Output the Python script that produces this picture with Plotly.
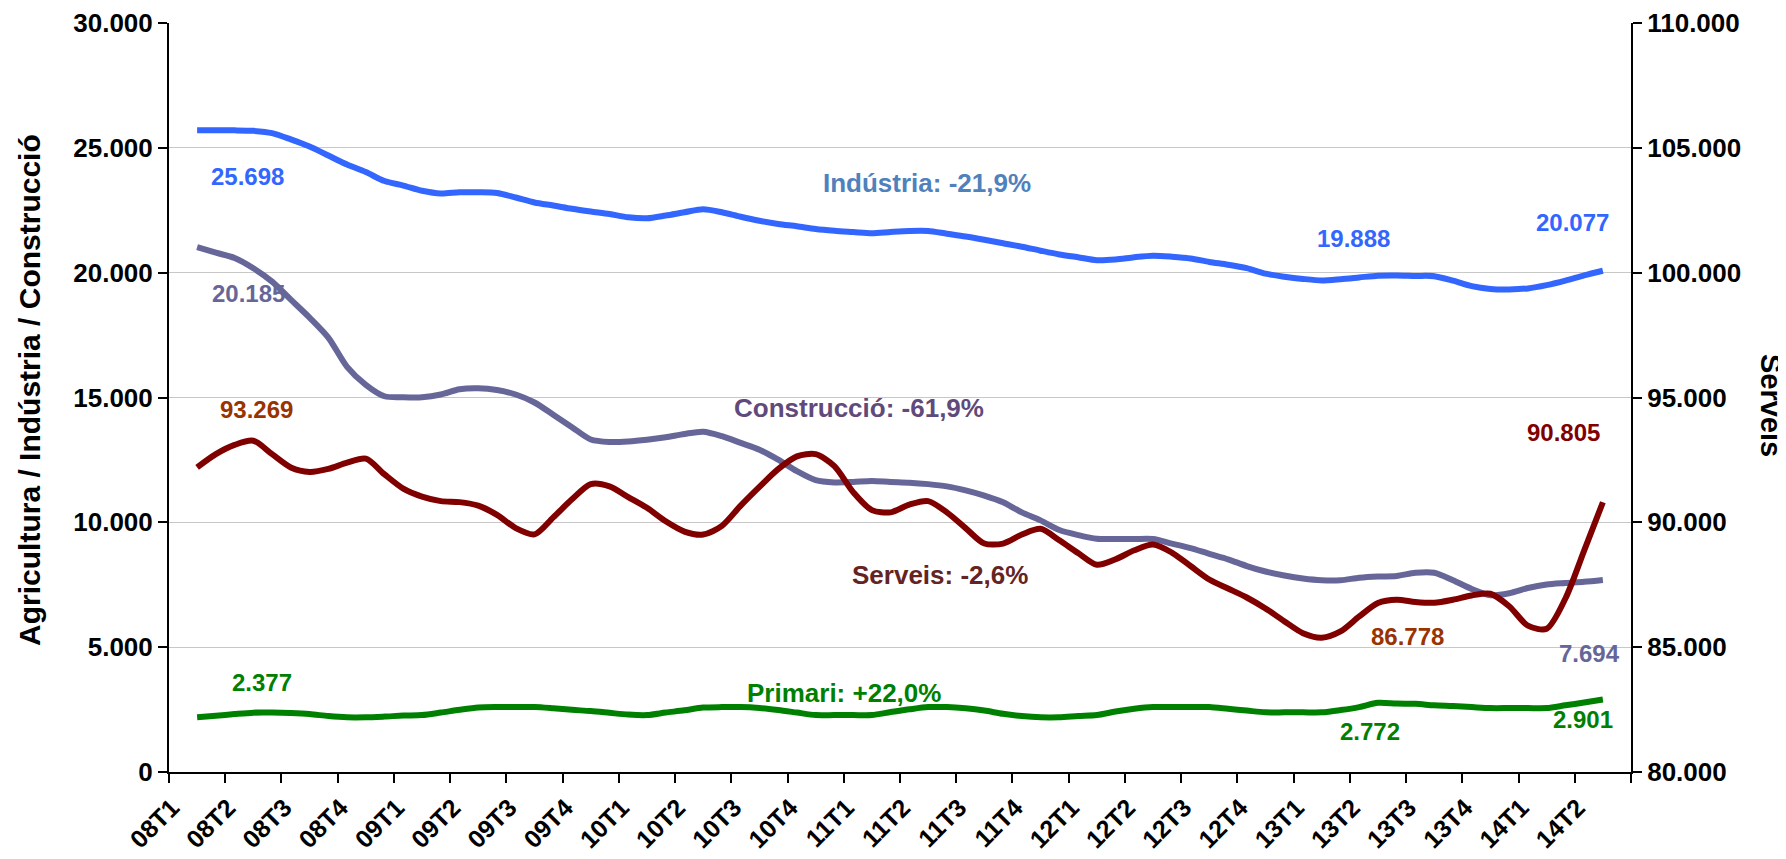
import plotly.graph_objects as go

FONT = "Liberation Sans, Arial, sans-serif"

quarters = ["08T1", "08T2", "08T3", "08T4", "09T1", "09T2", "09T3", "09T4",
            "10T1", "10T2", "10T3", "10T4", "11T1", "11T2", "11T3", "11T4",
            "12T1", "12T2", "12T3", "12T4", "13T1", "13T2", "13T3", "13T4",
            "14T1", "14T2"]

# monthly values, thousands of people (left axis)
industria = [25.70, 25.70, 25.70, 25.68, 25.59, 25.34, 25.05, 24.69, 24.33, 24.03, 23.67, 23.49, 23.28, 23.17, 23.22, 23.22,
             23.19, 23.01, 22.81, 22.69, 22.56, 22.45, 22.35, 22.22, 22.18, 22.29, 22.42, 22.54, 22.42, 22.24, 22.08, 21.95,
             21.86, 21.75, 21.68, 21.63, 21.58, 21.63, 21.67, 21.67, 21.56, 21.45, 21.32, 21.18, 21.04, 20.88, 20.73, 20.62,
             20.50, 20.53, 20.62, 20.68, 20.64, 20.57, 20.43, 20.32, 20.18, 19.96, 19.84, 19.75, 19.69, 19.74, 19.81, 19.88,
             19.888, 19.87, 19.86, 19.68, 19.46, 19.35, 19.33, 19.37, 19.50, 19.68, 19.89, 20.077]

construccio = [21.02, 20.80, 20.59, 20.18, 19.64, 18.92, 18.20, 17.40, 16.23, 15.51, 15.05, 15.01, 15.01, 15.12, 15.33, 15.37,
               15.30, 15.12, 14.80, 14.31, 13.81, 13.32, 13.22, 13.24, 13.31, 13.41, 13.54, 13.63, 13.45, 13.18, 12.91, 12.51,
               12.05, 11.69, 11.60, 11.62, 11.66, 11.62, 11.59, 11.53, 11.44, 11.28, 11.07, 10.80, 10.40, 10.08, 9.69, 9.49,
               9.34, 9.33, 9.33, 9.33, 9.15, 8.97, 8.74, 8.52, 8.25, 8.03, 7.87, 7.75, 7.68, 7.68, 7.78, 7.83,
               7.85, 7.98, 7.98, 7.68, 7.33, 7.08, 7.16, 7.37, 7.51, 7.57, 7.62, 7.694]

primari = [2.19, 2.25, 2.32, 2.377, 2.38, 2.36, 2.32, 2.24, 2.19, 2.19, 2.22, 2.26, 2.28, 2.38, 2.49, 2.58,
           2.60, 2.60, 2.60, 2.55, 2.49, 2.44, 2.37, 2.30, 2.28, 2.38, 2.47, 2.58, 2.60, 2.60, 2.56, 2.48,
           2.38, 2.28, 2.28, 2.28, 2.28, 2.40, 2.51, 2.60, 2.60, 2.55, 2.46, 2.33, 2.24, 2.19, 2.19, 2.24,
           2.28, 2.42, 2.53, 2.60, 2.60, 2.60, 2.60, 2.53, 2.46, 2.39, 2.39, 2.39, 2.39, 2.48, 2.60, 2.772,
           2.74, 2.73, 2.67, 2.64, 2.60, 2.56, 2.56, 2.56, 2.56, 2.67, 2.78, 2.901]

# right axis
serveis = [92.20, 92.73, 93.10, 93.269, 92.73, 92.20, 92.02, 92.14, 92.39, 92.55, 91.92, 91.35, 91.03, 90.85, 90.81, 90.67,
           90.30, 89.77, 89.52, 90.20, 90.92, 91.53, 91.44, 91.01, 90.58, 90.04, 89.63, 89.51, 89.86, 90.67, 91.42, 92.13,
           92.64, 92.73, 92.25, 91.21, 90.49, 90.40, 90.71, 90.85, 90.40, 89.77, 89.15, 89.15, 89.51, 89.74, 89.28, 88.77,
           88.30, 88.52, 88.88, 89.11, 88.79, 88.25, 87.71, 87.35, 86.99, 86.55, 86.04, 85.56, 85.38, 85.63, 86.23, 86.77,
           86.90, 86.81, 86.778, 86.90, 87.07, 87.14, 86.64, 85.86, 85.74, 86.95, 88.87, 90.805]

# month positions on the quarter axis (each quarter = 1 unit, mid-month points)
months = [0.5 + k / 3 for k in range(len(industria))]

series = [
    ("Indústria", industria, "#3366FF", "y"),
    ("Construcció", construccio, "#666699", "y"),
    ("Serveis", serveis, "#800000", "y2"),
    ("Primari", primari, "#008000", "y"),
]

labels = [
    # text, x, y (left axis units), colour, size
    ("25.698", 1.39, 23850, "#3366FF", 24),
    ("20.185", 1.41, 19150, "#666699", 24),
    ("93.269", 1.55, 14500, "#993300", 24),
    ("2.377", 1.66, 3600, "#008000", 24),
    ("Indústria: -21,9%", 13.48, 23590, "#4F81BD", 26),
    ("Construcció: -61,9%", 12.27, 14580, "#604A7B", 26),
    ("Serveis: -2,6%", 13.71, 7890, "#632423", 26),
    ("Primari: +22,0%", 12.0, 3180, "#008000", 26),
    ("19.888", 21.06, 21350, "#3366FF", 24),
    ("20.077", 24.96, 21990, "#3366FF", 24),
    ("90.805", 24.80, 13580, "#800000", 24),
    ("86.778", 22.03, 5410, "#993300", 24),
    ("7.694", 25.26, 4730, "#666699", 24),
    ("2.772", 21.36, 1640, "#008000", 24),
    ("2.901", 25.14, 2120, "#008000", 24),
]

fig = go.Figure()
for name, vals, color, yax in series:
    fig.add_trace(go.Scatter(
        x=months,
        y=[v * 1000 for v in vals],
        mode="lines",
        name=name,
        yaxis=yax,
        line=dict(color=color, width=6, shape="spline", smoothing=0.8),
        hovertemplate=name + ": %{y:,.0f}<extra></extra>",
    ))

for text, x, y, color, size in labels:
    fig.add_annotation(text=text, x=x, y=y, xref="x", yref="y", showarrow=False,
                       font=dict(family=FONT, size=size, color=color, weight="bold"))

fig.add_annotation(text="Agricultura / Indústria / Construcció", xref="paper", yref="paper",
                   x=-0.0958, y=0.51, xanchor="center", yanchor="middle",
                   textangle=-90, showarrow=False,
                   font=dict(family=FONT, size=30, color="#000000", weight="bold"))
fig.add_annotation(text="Serveis", xref="paper", yref="paper",
                   x=1.0958, y=0.49, xanchor="center", yanchor="middle",
                   textangle=90, showarrow=False,
                   font=dict(family=FONT, size=29, color="#000000", weight="bold"))

tick_font = dict(family=FONT, size=26, color="#000000", weight="bold")

# page body has an 8px margin, so the figure is a little smaller than the window
fig.update_layout(
    width=1778, height=851,
    paper_bgcolor="#FFFFFF",
    plot_bgcolor="#FFFFFF",
    separators=",.",
    showlegend=False,
    margin=dict(l=161, r=155, t=15, b=87),
    xaxis=dict(
        range=[0, 26],
        tickvals=list(range(27)),
        ticktext=quarters + [""],
        tickangle=-45,
        ticks="outside", ticklen=9, tickwidth=2, tickcolor="#000000",
        ticklabelshift=3,
        showline=True, linecolor="#000000", linewidth=2,
        showgrid=False, zeroline=False, automargin=False,
        tickfont=dict(family=FONT, size=25, color="#000000", weight="bold"),
    ),
    yaxis=dict(
        range=[0, 30000], dtick=5000, tickformat=",d",
        ticks="outside", ticklen=9, tickwidth=2, tickcolor="#000000",
        showline=True, linecolor="#000000", linewidth=2,
        showgrid=True, gridcolor="#C8C8C8", gridwidth=1, zeroline=False,
        automargin=False,
        tickfont=tick_font,
    ),
    yaxis2=dict(
        range=[80000, 110000], dtick=5000, tickformat=",d",
        overlaying="y", side="right",
        ticks="outside", ticklen=9, tickwidth=2, tickcolor="#000000",
        showline=True, linecolor="#000000", linewidth=2,
        showgrid=False, zeroline=False, automargin=False,
        tickfont=tick_font,
    ),
)

fig.write_html("out.html")
